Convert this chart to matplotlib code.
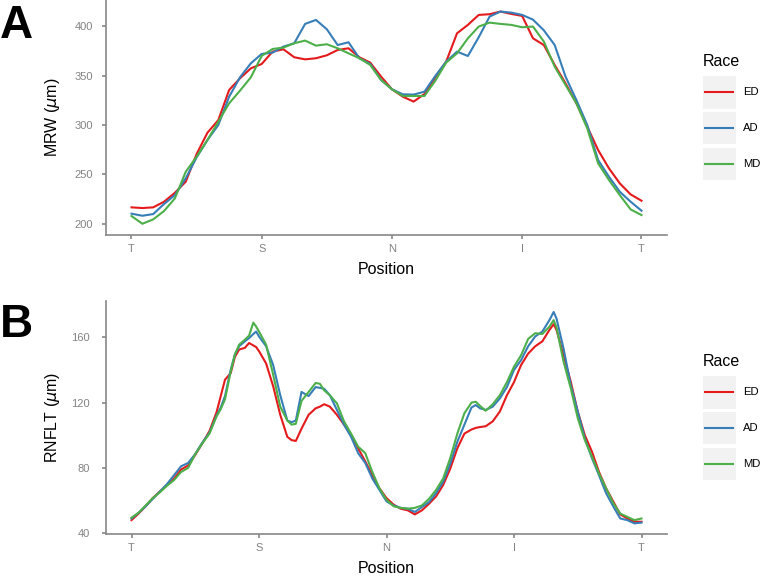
import matplotlib
matplotlib.use("Agg")
import numpy as np
from matplotlib import pyplot as plt
from matplotlib.patches import Rectangle
from matplotlib.lines import Line2D

plt.rcParams['font.family'] = ['Liberation Sans', 'DejaVu Sans']

W, H = 761, 577

races = ['ED', 'AD', 'MD']
colors = ['#E41A1C', '#377EB8', '#4DAF4A']
sector_labels = ['T', 'S', 'N', 'I', 'T']

# panel A: MRW at 48 positions
mrw_pos = np.arange(1, 49)
mrw_ticks = [1, 13, 25, 37, 48]
mrw_ed = [216.6, 215.9, 216.6, 222.3, 231.4, 242.6, 270.6, 292.2, 305.0, 335.5, 347.3, 357.4,
          361.8, 374.3, 376.7, 368.6, 366.5, 367.6, 370.6, 376.0, 377.7, 368.6, 363.2, 349.0,
          336.2, 328.7, 323.7, 331.4, 348.3, 364.2, 392.9, 401.4, 411.5, 412.2, 414.9, 412.5,
          410.5, 387.8, 381.0, 360.8, 342.2, 322.0, 298.3, 274.7, 256.1, 240.9, 229.7, 223.3]
mrw_ad = [210.2, 208.1, 209.8, 220.0, 229.0, 246.0, 267.2, 284.8, 300.0, 328.7, 348.3, 362.5,
          372.0, 373.3, 379.4, 382.8, 402.4, 406.4, 397.0, 381.0, 383.8, 367.6, 361.8, 345.6,
          336.2, 331.1, 330.8, 333.8, 349.7, 364.2, 374.3, 369.9, 388.9, 409.8, 414.9, 413.8,
          411.5, 406.7, 395.9, 381.0, 349.0, 325.3, 300.0, 264.6, 247.6, 232.4, 222.3, 213.2]
mrw_md = [207.8, 200.0, 204.4, 212.9, 225.7, 252.7, 267.9, 284.8, 303.4, 322.0, 334.8, 348.3,
          370.0, 377.0, 378.4, 382.8, 385.5, 380.4, 381.8, 377.7, 372.6, 367.6, 360.8, 345.6,
          336.2, 329.4, 329.4, 329.4, 344.9, 363.2, 372.6, 387.8, 399.7, 403.7, 402.4, 401.4,
          399.0, 399.7, 384.5, 359.1, 340.5, 322.0, 296.6, 261.2, 244.3, 229.0, 214.5, 208.8]

# panel B: RNFLT by angle (deg)
rnfl_deg = [0, 5, 10, 15, 20, 25, 30, 35, 40, 45, 50, 55, 60, 63, 66, 70, 73, 76, 80, 83, 86, 88,
            90, 95, 100, 105, 110, 113, 116, 120, 125, 130, 133, 136, 140, 145, 150, 155, 160,
            165, 170, 175, 180, 185, 190, 195, 200, 205, 210, 215, 220, 225, 230, 235, 240, 243,
            246, 250, 255, 260, 265, 270, 275, 280, 285, 290, 295, 298, 300, 305, 310, 315, 320,
            325, 330, 335, 340, 345, 350, 355, 360]
rnfl_ticks = [0, 90, 180, 270, 360]
rnfl_ed = [48.0, 52.0, 56.5, 61.5, 65.5, 69.5, 73.5, 79.0, 81.5, 88.0, 95.0, 102.5, 114.0, 124.0,
           134.0, 138.0, 148.0, 152.5, 153.5, 156.5, 155.0, 154.0, 151.5, 144.0, 130.0, 112.5,
           99.0, 97.0, 96.5, 104.0, 112.5, 116.5, 117.5, 119.0, 117.5, 112.5, 106.5, 100.0, 92.0,
           84.0, 75.5, 67.5, 61.5, 57.5, 55.0, 54.0, 51.5, 54.0, 58.0, 62.5, 69.5, 79.5, 92.0,
           101.0, 103.5, 104.5, 105.0, 105.5, 108.5, 114.5, 124.5, 132.5, 143.0, 150.0, 154.5,
           157.5, 164.5, 168.0, 164.5, 149.0, 133.0, 114.5, 100.0, 90.0, 77.5, 67.5, 59.5, 51.5,
           49.0, 47.0, 47.0]
rnfl_ad = [49.0, 52.5, 56.5, 61.0, 65.5, 70.0, 75.5, 81.0, 83.0, 88.5, 95.5, 101.5, 112.0, 117.0,
           124.0, 140.0, 149.5, 154.5, 157.5, 159.5, 162.0, 163.5, 160.5, 154.5, 143.0, 124.5,
           109.0, 108.0, 109.0, 126.5, 124.0, 129.5, 129.0, 128.5, 124.5, 115.5, 106.5, 99.0, 89.0,
           83.0, 73.5, 66.5, 59.5, 57.0, 55.5, 55.0, 53.0, 56.0, 59.0, 64.5, 71.5, 82.5, 96.0,
           106.5, 117.0, 118.5, 116.5, 115.5, 117.5, 122.5, 129.5, 140.0, 146.0, 154.5, 160.5,
           163.5, 170.5, 175.5, 171.5, 153.0, 131.0, 114.5, 98.0, 86.0, 75.5, 64.5, 56.5, 49.0,
           48.0, 46.0, 46.5]
rnfl_md = [49.5, 52.5, 57.0, 61.5, 65.0, 69.0, 72.5, 77.5, 80.0, 88.5, 95.0, 101.0, 111.5, 116.0,
           122.0, 139.0, 149.5, 155.5, 158.5, 161.0, 169.0, 166.5, 163.5, 155.5, 137.0, 117.5,
           109.0, 106.5, 107.0, 121.0, 126.5, 132.0, 131.5, 127.5, 124.5, 119.5, 108.5, 101.0, 93.0,
           89.0, 77.5, 67.5, 60.5, 56.5, 55.5, 55.0, 55.5, 57.0, 61.0, 66.5, 73.5, 86.0, 101.0,
           113.5, 120.0, 120.5, 118.0, 115.0, 119.0, 124.5, 132.5, 142.0, 149.0, 159.0, 162.5,
           162.0, 166.5, 170.5, 166.0, 145.0, 129.0, 110.5, 97.0, 87.0, 76.5, 67.5, 58.5, 52.0,
           50.0, 48.0, 49.0]

AXIS_GREY = '#878787'
TICK_GREY = '#838383'


def style_axes(ax, ypad):
    for side in ['top', 'right']:
        ax.spines[side].set_visible(False)
    for side in ['left', 'bottom']:
        ax.spines[side].set_color(AXIS_GREY)
        ax.spines[side].set_linewidth(1.2)
    ax.tick_params(axis='both', colors=AXIS_GREY, labelcolor=TICK_GREY, labelsize=8.0,
                   length=3, width=1.2)
    ax.tick_params(axis='y', pad=ypad)
    ax.tick_params(axis='x', pad=3.4)


def draw_legend(top):
    # top = pixel y of the title baseline
    fig.text(702.7 / W, 1 - top / H, 'Race', fontsize=11.5, va='baseline', ha='left')
    for k, (name, col) in enumerate(zip(races, colors)):
        y0 = top + 10 + k * 35.8
        fig.patches.append(Rectangle((702.7 / W, 1 - (y0 + 32.5) / H), 33 / W, 32.5 / H,
                                     transform=fig.transFigure, facecolor='#f2f2f2',
                                     edgecolor='none'))
        yc = 1 - (y0 + 16.2) / H
        fig.lines.append(Line2D([705 / W, 733.3 / W], [yc, yc], transform=fig.transFigure,
                                color=col, linewidth=1.5))
        fig.text(742.7 / W, yc, name, fontsize=8.1, va='center', ha='left')


fig = plt.figure(figsize=(W / 100, H / 100), dpi=100)

# ---- A: MRW
axA = fig.add_axes([106 / W, 1 - 235 / H, 561 / W, 235 / H])
for vals, col in zip([mrw_ed, mrw_ad, mrw_md], colors):
    axA.plot(mrw_pos, vals, color=col, linewidth=1.5)
axA.set_xlim(-1.35, 50.35)
axA.set_ylim(188.6, 426.6)
axA.set_xticks(mrw_ticks)
axA.set_xticklabels(sector_labels)
axA.set_yticks([200, 250, 300, 350, 400])
style_axes(axA, 6.6)
axA.set_xlabel('Position', fontsize=11.5)
axA.xaxis.set_label_coords(0.5, -0.115)
axA.set_ylabel('MRW ($\\mu$m)', fontsize=11.5)
axA.yaxis.set_label_coords(-0.079, 0.5)

# ---- B: RNFLT
axB = fig.add_axes([106 / W, 1 - 534 / H, 561 / W, 233.3 / H])
for vals, col in zip([rnfl_ed, rnfl_ad, rnfl_md], colors):
    axB.plot(rnfl_deg, vals, color=col, linewidth=1.5)
axB.set_xlim(-18, 378)
axB.set_ylim(39.5, 182.4)
axB.set_xticks(rnfl_ticks)
axB.set_xticklabels(sector_labels)
axB.set_yticks([40, 80, 120, 160])
style_axes(axB, 8.8)
axB.set_xlabel('Position', fontsize=11.5)
axB.xaxis.set_label_coords(0.5, -0.117)
axB.set_ylabel('RNFLT ($\\mu$m)', fontsize=11.5)
axB.yaxis.set_label_coords(-0.079, 0.5)

draw_legend(66)
draw_legend(366)

fig.text(0.0, 1 - 38 / H, 'A', fontsize=33, fontweight='bold', va='baseline', ha='left')
fig.text(0.0, 1 - 336.7 / H, 'B', fontsize=33, fontweight='bold', va='baseline', ha='left')

fig.savefig('out.png', dpi=100)
